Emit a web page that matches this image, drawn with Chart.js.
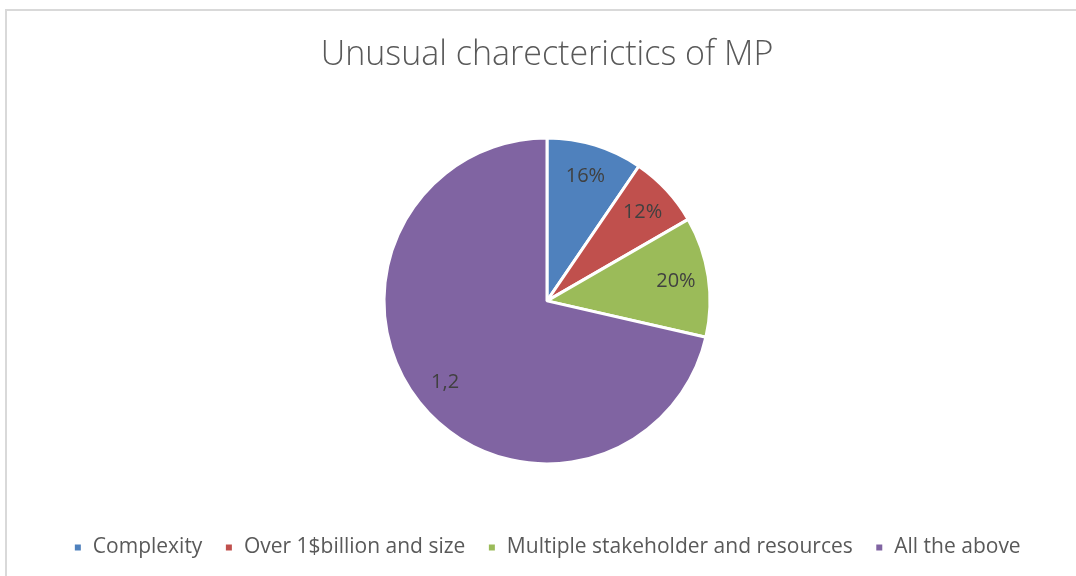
<!DOCTYPE html>
<html lang="en">
  <head>
    <meta charset="UTF-8" />
    <title>Unusual charecterictics of MP</title>
    <script src="https://cdn.jsdelivr.net/npm/chart.js@4.4.0/dist/chart.umd.min.js"></script>
    <style>
      html,
      body {
        margin: 0;
        padding: 0;
        background: #fff;
      }
      .frame {
        position: absolute;
        left: 5px;
        top: 9px;
        width: 1071px;
        height: 567px;
        border-top: 2px solid #d9d9d9;
        border-left: 2px solid #d9d9d9;
        box-sizing: border-box;
      }
      .chart-container {
        position: absolute;
        left: 0;
        top: 0;
        width: 1076px;
        height: 576px;
      }
    </style>
  </head>
  <body>
    <div class="frame"></div>
    <div class="chart-container">
      <canvas id="chart" width="1076" height="576"></canvas>
    </div>
    <script>
      const categories = [
        "Complexity",
        "Over 1$billion and size",
        "Multiple stakeholder and resources",
        "All the above",
      ];
      const values = [0.16, 0.12, 0.2, 1.2];
      // how each slice label is written: percent or plain number with comma
      const labelFormats = ["pct", "pct", "pct", "num"];
      const sliceColors = ["#4f81bd", "#c0504d", "#9bbb59", "#8064a2"];

      function formatValue(v, fmt) {
        if (fmt === "pct") return Math.round(v * 100) + "%";
        return String(v).replace(".", ",");
      }

      // writes the value inside each slice, at about 80% of the radius
      const sliceLabels = {
        id: "sliceLabels",
        afterDatasetsDraw(chart) {
          const ctx = chart.ctx;
          const meta = chart.getDatasetMeta(0);
          ctx.save();
          ctx.font = "20px 'Open Sans'";
          ctx.fillStyle = "#404040";
          ctx.textAlign = "center";
          ctx.textBaseline = "middle";
          meta.data.forEach((arc, i) => {
            const { x, y, startAngle, endAngle, outerRadius } = arc.getProps(
              ["x", "y", "startAngle", "endAngle", "outerRadius"],
              true
            );
            const mid = (startAngle + endAngle) / 2;
            const r = outerRadius * 0.8;
            ctx.fillText(
              formatValue(values[i], labelFormats[i]),
              x + Math.cos(mid) * r,
              y + Math.sin(mid) * r
            );
          });
          ctx.restore();
        },
      };

      const ctx = document.getElementById("chart").getContext("2d");

      new Chart(ctx, {
        type: "pie",
        data: {
          labels: categories,
          datasets: [
            {
              data: values,
              backgroundColor: sliceColors,
              borderColor: "#ffffff",
              borderWidth: 3,
            },
          ],
        },
        options: {
          responsive: false,
          animation: false,
          radius: 163,
          layout: {
            padding: { left: 18, right: 0, top: 0, bottom: 8 },
          },
          plugins: {
            title: {
              display: true,
              text: "Unusual charecterictics of MP",
              color: "#595959",
              font: { family: "'Open Sans'", size: 34, weight: 300 },
              padding: { top: 35, bottom: 11 },
            },
            legend: {
              position: "bottom",
              labels: {
                color: "#595959",
                font: { family: "'Open Sans'", size: 21 },
                boxWidth: 9,
                boxHeight: 9,
                padding: 22,
              },
            },
            tooltip: { enabled: false },
          },
        },
        plugins: [sliceLabels],
      });
    </script>
  </body>
</html>
